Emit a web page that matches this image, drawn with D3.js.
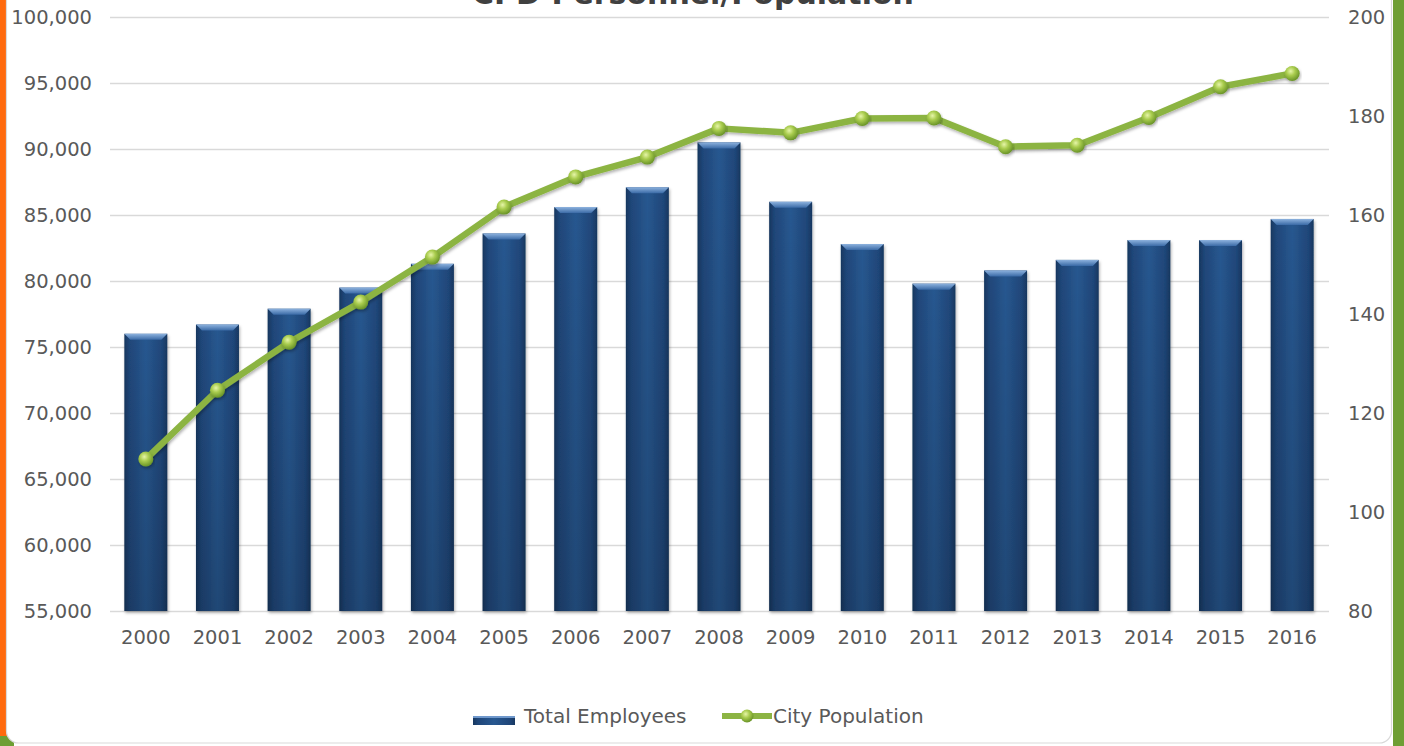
<!DOCTYPE html>
<html>
<head>
<meta charset="utf-8">
<script src="https://cdn.jsdelivr.net/npm/d3@7"></script>
<style>
  html, body { margin: 0; padding: 0; background: #ffffff; overflow: hidden; }
  svg { display: block; }
  text { font-family: Verdana, "DejaVu Sans", sans-serif; }
</style>
</head>
<body>
<svg id="chart" width="1404" height="746"></svg>
<script>
const years = ["2000","2001","2002","2003","2004","2005","2006","2007","2008","2009","2010","2011","2012","2013","2014","2015","2016"];
const totalEmployees = [76000, 76700, 77900, 79500, 81300, 83600, 85600, 87100, 90500, 86000, 82800, 79800, 80800, 81600, 83100, 83100, 84700];
const cityPopulation = [110.7, 124.6, 134.3, 142.4, 151.5, 161.6, 167.7, 171.7, 177.5, 176.6, 179.5, 179.6, 173.8, 174.1, 179.7, 185.9, 188.6];
const leftTicks = [55000, 60000, 65000, 70000, 75000, 80000, 85000, 90000, 95000, 100000];
const rightTicks = [80, 100, 120, 140, 160, 180, 200];
const titleText = "CPD Personnel/Population";
const seriesNames = ["Total Employees", "City Population"];

const svg = d3.select("#chart");
const W = 1404, H = 746;
const plot = { left: 110, right: 1328, top: 17, bottom: 611 };

// ---- frame / background decorations ----
svg.append("rect").attr("x", 1393).attr("y", 0).attr("width", 11).attr("height", H).attr("fill", "#6E9E34");
svg.append("rect").attr("x", 0).attr("y", 734).attr("width", 14).attr("height", 12).attr("fill", "#6E9E34");
svg.append("rect").attr("x", 0).attr("y", 0).attr("width", 7).attr("height", 736).attr("fill", "#FF6A0D");
svg.append("rect").attr("x", 6.5).attr("y", -30).attr("width", 1385).attr("height", 773)
  .attr("rx", 12).attr("fill", "#ffffff").attr("stroke", "#d9d9d9").attr("stroke-width", 1.2);

const defs = svg.append("defs");
const gH = defs.append("linearGradient").attr("id", "barH").attr("x1", "0").attr("x2", "1").attr("y1", "0").attr("y2", "0");
[[0, "#17375f"], [0.12, "#1f4679"], [0.5, "#285890"], [0.88, "#1f4679"], [1, "#17375f"]]
  .forEach(([o, c]) => gH.append("stop").attr("offset", o).attr("stop-color", c));
const gV = defs.append("linearGradient").attr("id", "barV").attr("x1", "0").attr("x2", "0").attr("y1", "0").attr("y2", "1");
[[0, "#000", 0], [1, "#000", 0.18]].forEach(([o, c, a]) => gV.append("stop").attr("offset", o).attr("stop-color", c).attr("stop-opacity", a));
const gB = defs.append("linearGradient").attr("id", "bevel").attr("x1", "0").attr("x2", "0").attr("y1", "0").attr("y2", "1");
[[0, "#8db2de"], [1, "#3a6aa6"]].forEach(([o, c]) => gB.append("stop").attr("offset", o).attr("stop-color", c));
const gM = defs.append("radialGradient").attr("id", "marker").attr("cx", "0.4").attr("cy", "0.35").attr("r", "0.65");
[[0, "#e6f5a8"], [0.45, "#a9cc4e"], [1, "#6a9428"]].forEach(([o, c]) => gM.append("stop").attr("offset", o).attr("stop-color", c));
const sh = defs.append("filter").attr("id", "shadow").attr("x", "-10%").attr("y", "-10%").attr("width", "120%").attr("height", "140%");
sh.append("feDropShadow").attr("dx", 1).attr("dy", 2).attr("stdDeviation", 1.5).attr("flood-color", "#000").attr("flood-opacity", 0.3);

// ---- title (cut off at top, as in the reference) ----
svg.append("text").attr("x", 693).attr("y", 4).attr("text-anchor", "middle")
  .attr("font-size", 30).attr("font-weight", "bold").attr("fill", "#404040").text(titleText);

// ---- scales ----
const x = d3.scaleBand().domain(years).range([plot.left, plot.right]).paddingInner(0.4).paddingOuter(0.2);
const yL = d3.scaleLinear().domain([55000, 100000]).range([plot.bottom, plot.top]);
const yR = d3.scaleLinear().domain([80, 200]).range([plot.bottom, plot.top]);

// ---- gridlines ----
svg.append("g").selectAll("line").data(leftTicks).join("line")
  .attr("x1", plot.left).attr("x2", plot.right + 1)
  .attr("y1", d => Math.round(yL(d)) + 0.5).attr("y2", d => Math.round(yL(d)) + 0.5)
  .attr("stroke", "#d9d9d9").attr("stroke-width", 1.5);

// ---- axes ----
const fmt = d3.format(",");
const fontFam = "Verdana, 'DejaVu Sans', sans-serif";
const axL = svg.append("g").attr("transform", `translate(${plot.left - 18},0)`)
  .call(d3.axisLeft(yL).tickValues(leftTicks).tickFormat(fmt).tickSize(0).tickPadding(0));
axL.select(".domain").remove();
axL.selectAll("text").attr("font-size", 19.5).attr("fill", "#595959").attr("font-family", fontFam);

const axR = svg.append("g").attr("transform", `translate(${plot.right + 20},0)`)
  .call(d3.axisRight(yR).tickValues(rightTicks).tickSize(0).tickPadding(0));
axR.select(".domain").remove();
axR.selectAll("text").attr("font-size", 19.5).attr("fill", "#595959").attr("font-family", fontFam);

const axB = svg.append("g").attr("transform", `translate(0,${plot.bottom + 19})`)
  .call(d3.axisBottom(x).tickSize(0).tickPadding(0));
axB.select(".domain").remove();
axB.selectAll("text").attr("font-size", 19.5).attr("fill", "#595959").attr("font-family", fontFam);

// ---- bars ----
const bars = svg.append("g").selectAll("g").data(years.map((yr, i) => ({ yr, v: totalEmployees[i] }))).join("g");
bars.append("rect")
  .attr("x", d => x(d.yr)).attr("width", x.bandwidth())
  .attr("y", d => yL(d.v)).attr("height", d => plot.bottom - yL(d.v))
  .attr("fill", "url(#barH)").attr("filter", "url(#shadow)");
bars.append("rect")
  .attr("x", d => x(d.yr)).attr("width", x.bandwidth())
  .attr("y", d => yL(d.v)).attr("height", d => plot.bottom - yL(d.v))
  .attr("fill", "url(#barV)");
bars.append("path")
  .attr("d", d => {
    const x0 = x(d.yr), x1 = x0 + x.bandwidth(), y0 = yL(d.v);
    return `M${x0},${y0}L${x1},${y0}L${x1 - 6},${y0 + 6}L${x0 + 6},${y0 + 6}Z`;
  })
  .attr("fill", "url(#bevel)");

// ---- line ----
const pts = years.map((yr, i) => [x(yr) + x.bandwidth() / 2, yR(cityPopulation[i])]);
svg.append("path").datum(pts)
  .attr("d", d3.line())
  .attr("fill", "none").attr("stroke", "#8cb443").attr("stroke-width", 6.5)
  .attr("stroke-linejoin", "round").attr("filter", "url(#shadow)");
svg.append("g").selectAll("circle").data(pts).join("circle")
  .attr("cx", d => d[0]).attr("cy", d => d[1]).attr("r", 7.5)
  .attr("fill", "url(#marker)").attr("filter", "url(#shadow)");

// ---- legend ----
const lg = svg.append("g");
lg.append("rect").attr("x", 473).attr("y", 716).attr("width", 42).attr("height", 9).attr("fill", "url(#barH)");
lg.append("rect").attr("x", 473).attr("y", 716).attr("width", 42).attr("height", 2).attr("fill", "#6f98cc");
lg.append("text").attr("x", 524).attr("y", 723).attr("font-size", 20).attr("fill", "#595959").text(seriesNames[0]);
lg.append("line").attr("x1", 722).attr("x2", 772).attr("y1", 716).attr("y2", 716)
  .attr("stroke", "#8cb443").attr("stroke-width", 6);
lg.append("circle").attr("cx", 747).attr("cy", 716).attr("r", 6.5).attr("fill", "url(#marker)");
lg.append("text").attr("x", 773).attr("y", 723).attr("font-size", 20).attr("fill", "#595959").text(seriesNames[1]);
</script>
</body>
</html>
